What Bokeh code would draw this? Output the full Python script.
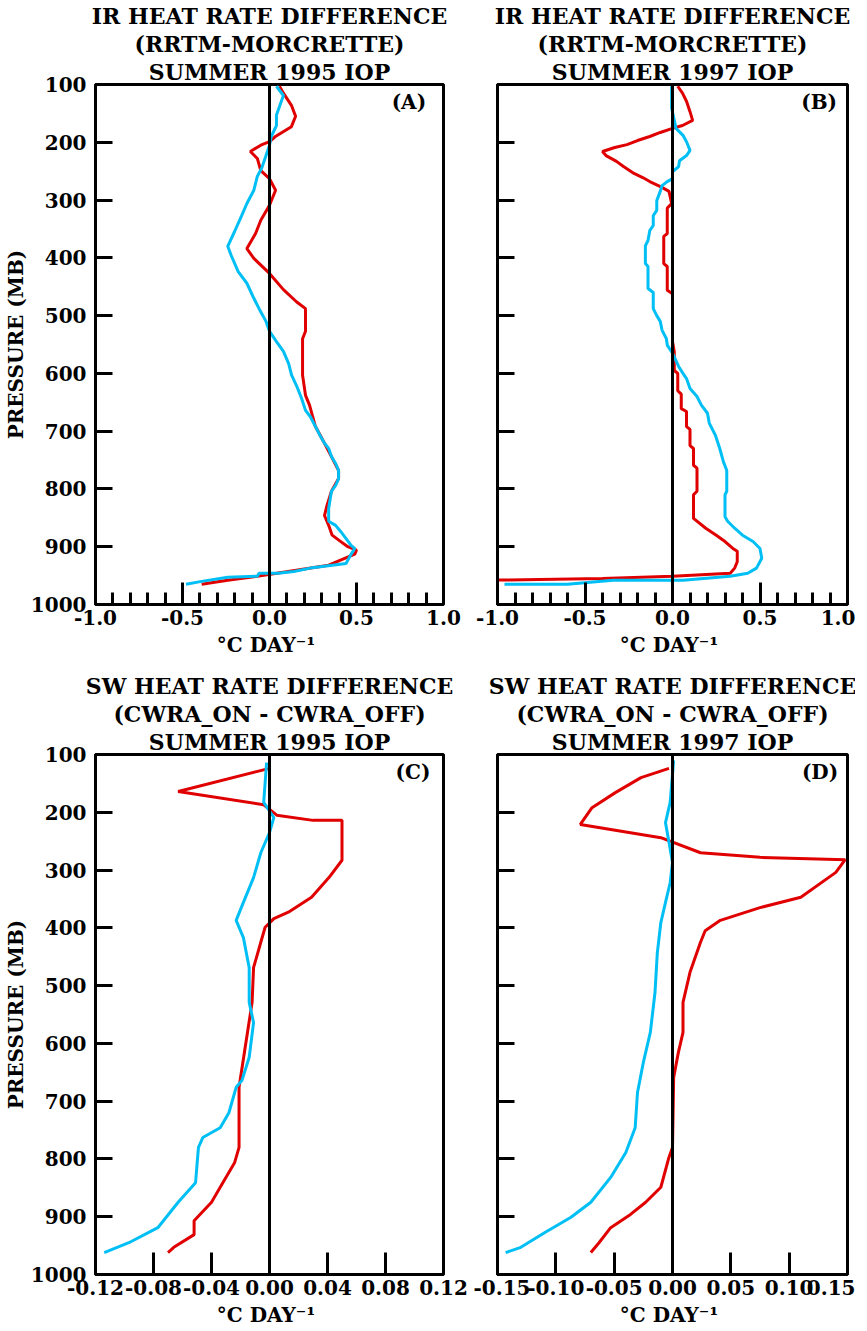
from bokeh.plotting import figure
from bokeh.models import Range1d, FixedTicker, Title, Label, Span, NumeralTickFormatter
from bokeh.layouts import column, row
from bokeh.embed import file_html
from bokeh.resources import INLINE

# ---------------- data (x: deg C/day, p: hPa) ----------------
yticks = [100, 200, 300, 400, 500, 600, 700, 800, 900, 1000]

a_red_x = [0.057, 0.08, 0.126, 0.15, 0.126, 0.034, 0.0, -0.05, -0.11, -0.07, -0.05, 0.0, 0.035, 0.0, -0.05,
           -0.08, -0.13, -0.09, 0.0, 0.08, 0.155, 0.207, 0.207, 0.19, 0.19, 0.207, 0.23, 0.264, 0.316, 0.356,
           0.397, 0.397, 0.356, 0.33, 0.316, 0.34, 0.36, 0.4, 0.45, 0.5, 0.49, 0.34, -0.07, -0.24, -0.39]
a_red_p = [103, 115, 136, 155, 173, 190, 199, 205, 216, 228, 249, 263, 283, 309, 335,
           358, 384, 401, 427, 455, 476, 488, 527, 540, 603, 638, 655, 692, 721, 744,
           768, 782, 804, 829, 846, 863, 880, 889, 900, 906, 913, 932, 951, 958, 965]

a_cyan_x = [0.04, 0.08, 0.06, 0.04, 0.04, 0.01, 0.0, -0.02, -0.045, -0.07, -0.09, -0.13, -0.16, -0.2, -0.24,
            -0.22, -0.18, -0.13, -0.09, -0.06, -0.02, 0.0, 0.04, 0.08, 0.11, 0.127, 0.155, 0.184, 0.207, 0.235,
            0.264, 0.293, 0.316, 0.34, 0.356, 0.38, 0.397, 0.397, 0.38, 0.356, 0.34, 0.34, 0.38, 0.41, 0.44,
            0.47, 0.49, 0.465, 0.44, 0.36, 0.235, 0.14, 0.05, -0.06, -0.07, -0.24, -0.39, -0.48]
a_cyan_p = [103, 119, 136, 153, 171, 190, 205, 223, 245, 259, 283, 306, 327, 354, 380,
            396, 424, 444, 470, 488, 510, 527, 545, 562, 583, 603, 621, 643, 664, 675,
            692, 709, 721, 730, 744, 756, 768, 782, 794, 804, 834, 856, 863, 874, 886,
            898, 903, 915, 929, 932, 937, 943, 946, 946, 951, 953, 960, 965]

b_red_x = [0.03, 0.057, 0.08, 0.1, 0.115, 0.057, 0.0, -0.07, -0.13, -0.2, -0.26, -0.33, -0.4, -0.38, -0.32,
           -0.28, -0.22, -0.17, -0.13, -0.06, -0.02, -0.005, -0.03, -0.03, -0.05, -0.05, -0.03, -0.03, 0.0, 0.0,
           0.01, 0.01, 0.03, 0.03, 0.05, 0.05, 0.08, 0.08, 0.1, 0.1, 0.12, 0.12, 0.14, 0.14, 0.12,
           0.12, 0.19, 0.25, 0.3, 0.345, 0.37, 0.37, 0.355, 0.33, 0.0, -0.4, -1.05]
b_red_p = [103, 115, 129, 147, 162, 171, 176, 183, 190, 197, 204, 209, 216, 223, 233,
           242, 254, 261, 268, 278, 285, 306, 314, 358, 363, 410, 415, 456, 462, 545,
           562, 595, 600, 630, 636, 661, 666, 692, 697, 725, 730, 759, 764, 804, 810,
           851, 868, 880, 891, 903, 908, 926, 937, 946, 951, 955, 958]

b_cyan_x = [-0.005, -0.005, 0.02, 0.06, 0.08, 0.1, 0.08, 0.04, 0.035, 0.0, 0.0, -0.03, -0.06, -0.07, -0.09,
            -0.09, -0.11, -0.11, -0.13, -0.14, -0.155, -0.155, -0.14, -0.14, -0.11, -0.11, -0.09, -0.07, -0.06,
            -0.035, -0.03, 0.0, 0.035, 0.06, 0.08, 0.1, 0.14, 0.165, 0.2, 0.21, 0.245, 0.27, 0.29, 0.31,
            0.31, 0.3, 0.3, 0.315, 0.355, 0.4, 0.46, 0.5, 0.51, 0.48, 0.43, 0.33, 0.06, -0.34, -0.6, -0.96]
b_cyan_p = [103, 141, 176, 188, 199, 214, 223, 232, 242, 251, 263, 268, 275, 285, 301,
            318, 327, 344, 353, 370, 379, 410, 415, 453, 460, 488, 500, 510, 525,
            540, 551, 565, 588, 600, 609, 626, 640, 655, 669, 686, 707, 730, 752, 768,
            804, 810, 848, 856, 868, 880, 891, 903, 920, 937, 946, 951, 958, 958, 965, 965]

c_red_x = [0.0, -0.063, -0.004, 0.005, 0.03, 0.05, 0.05, 0.041, 0.029, 0.013, 0.003, -0.003, -0.006, -0.011,
           -0.012, -0.021, -0.021, -0.024, -0.034, -0.04, -0.052, -0.052, -0.066, -0.07]
c_red_p = [124, 164, 187, 205, 214, 214, 283, 313, 347, 373, 384, 399, 425, 469,
           529, 676, 780, 806, 849, 875, 907, 931, 953, 962]

c_cyan_x = [-0.002, -0.004, 0.003, 0.0, -0.006, -0.011, -0.018, -0.023, -0.018, -0.016, -0.014, -0.014,
            -0.011, -0.014, -0.019, -0.023, -0.028, -0.034, -0.046, -0.049, -0.051, -0.063, -0.077, -0.097, -0.114]
c_cyan_p = [114, 183, 209, 235, 270, 313, 356, 387, 417, 443, 469, 529,
            564, 624, 664, 676, 720, 746, 763, 780, 841, 875, 919, 945, 962]

d_red_x = [-0.003, -0.027, -0.049, -0.069, -0.079, -0.01, 0.024, 0.075, 0.148, 0.14, 0.11, 0.075, 0.041,
           0.028, 0.024, 0.015, 0.009, 0.009, 0.005, 0.001, 0.0, -0.003, -0.01, -0.023, -0.036, -0.053, -0.063, -0.07]
d_red_p = [124, 140, 166, 192, 221, 244, 270, 278, 282, 304, 347, 365, 387,
           405, 425, 477, 529, 581, 616, 659, 780, 797, 849, 875, 896, 919, 945, 962]

d_cyan_x = [0.001, -0.002, -0.006, -0.003, 0.0, -0.002, -0.006, -0.01, -0.013, -0.015, -0.019, -0.025,
            -0.03, -0.032, -0.04, -0.053, -0.07, -0.087, -0.109, -0.13, -0.143]
d_cyan_p = [110, 183, 218, 252, 287, 322, 356, 391, 443, 512, 581, 633,
            685, 746, 789, 832, 875, 901, 927, 953, 962]

top_titles = [["IR HEAT RATE DIFFERENCE", "(RRTM-MORCRETTE)", "SUMMER 1995 IOP"],
              ["IR HEAT RATE DIFFERENCE", "(RRTM-MORCRETTE)", "SUMMER 1997 IOP"]]
bot_titles = [["SW HEAT RATE DIFFERENCE", "(CWRA_ON - CWRA_OFF)", "SUMMER 1995 IOP"],
              ["SW HEAT RATE DIFFERENCE", "(CWRA_ON - CWRA_OFF)", "SUMMER 1997 IOP"]]

FONT = "DejaVu Serif"
RED = "#e00000"
CYAN = "#00bff5"


def make(titles, letter, letter_x, xr, xticks, xminor, xfmt, rx, rp, cx, cp, left, ml, mr, mt, mb):
    p = figure(frame_width=348 if left else 350, frame_height=520,
               x_range=Range1d(*xr), y_range=Range1d(1000, 100),
               output_backend="svg", toolbar_location=None, title=None,
               min_border_left=ml, min_border_right=mr, min_border_top=mt, min_border_bottom=mb)
    for t in reversed(titles):
        p.add_layout(Title(text=t, align="center", text_font=FONT, text_font_size="22px",
                           text_font_style="bold", text_color="black", standoff=0, offset=0), "above")
    p.grid.visible = False
    p.outline_line_color = "black"
    p.outline_line_width = 3
    p.outline_line_alpha = 1

    p.xaxis.ticker = FixedTicker(ticks=xticks, minor_ticks=xminor)
    p.xaxis.formatter = NumeralTickFormatter(format=xfmt)
    p.yaxis.ticker = FixedTicker(ticks=yticks, minor_ticks=[])
    for ax in (p.xaxis[0], p.yaxis[0]):
        ax.axis_line_width = 3
        ax.major_tick_out = 0
        ax.minor_tick_out = 0
        ax.major_tick_line_width = 3
        ax.minor_tick_line_width = 3
        ax.major_label_text_font = FONT
        ax.major_label_text_font_style = "bold"
        ax.major_label_text_font_size = "20px"
        ax.major_label_text_color = "black"
        ax.axis_label_text_font = FONT
        ax.axis_label_text_font_style = "bold"
        ax.axis_label_text_font_size = "20px"
        ax.axis_label_text_color = "black"
    p.xaxis.major_tick_in = 22
    p.xaxis.minor_tick_in = 12
    p.yaxis.major_tick_in = 17
    p.xaxis.major_label_standoff = 5
    p.xaxis.axis_label_standoff = 5
    p.xaxis.axis_label = "°C  DAY⁻¹"
    if left:
        p.yaxis.axis_label = "PRESSURE (MB)"
        p.yaxis.major_label_standoff = 9
        p.yaxis.axis_label_standoff = 0
    else:
        p.yaxis.major_label_overrides = {v: "" for v in yticks}
        p.yaxis.major_label_standoff = 0

    p.line(rx, rp, line_color=RED, line_width=3)
    p.line(cx, cp, line_color=CYAN, line_width=3)
    p.add_layout(Span(location=0, dimension="height", line_color="black", line_width=3))
    p.add_layout(Label(x=letter_x, y=130, text=letter, text_align="right", text_baseline="middle",
                       text_font=FONT, text_font_style="bold", text_font_size="20px", text_color="black"))
    return p


ab_ticks = [-1.0, -0.5, 0.0, 0.5, 1.0]
ab_minor = [-0.9, -0.8, -0.7, -0.6, -0.4, -0.3, -0.2, -0.1, 0.1, 0.2, 0.3, 0.4, 0.6, 0.7, 0.8, 0.9]
c_ticks = [-0.12, -0.08, -0.04, 0.0, 0.04, 0.08, 0.12]
d_ticks = [-0.15, -0.10, -0.05, 0.0, 0.05, 0.10, 0.15]

pa = make(top_titles[0], "(A)", 0.90, (-1.0, 1.0), ab_ticks, ab_minor, "0.0",
          a_red_x, a_red_p, a_cyan_x, a_cyan_p, True, 89, 30, 78, 66)
pb = make(top_titles[1], "(B)", 0.94, (-1.0, 1.0), ab_ticks, ab_minor, "0.0",
          b_red_x, b_red_p, b_cyan_x, b_cyan_p, False, 24, 8, 78, 66)
pc = make(bot_titles[0], "(C)", 0.111, (-0.12, 0.12), c_ticks, [], "0.00",
          c_red_x, c_red_p, c_cyan_x, c_cyan_p, True, 89, 30, 80, 50)
pd = make(bot_titles[1], "(D)", 0.142, (-0.15, 0.15), d_ticks, [], "0.00",
          d_red_x, d_red_p, d_cyan_x, d_cyan_p, False, 24, 8, 80, 50)

layout = column(row(pa, pb), row(pc, pd))
open("out.html", "w").write(file_html(layout, INLINE))
